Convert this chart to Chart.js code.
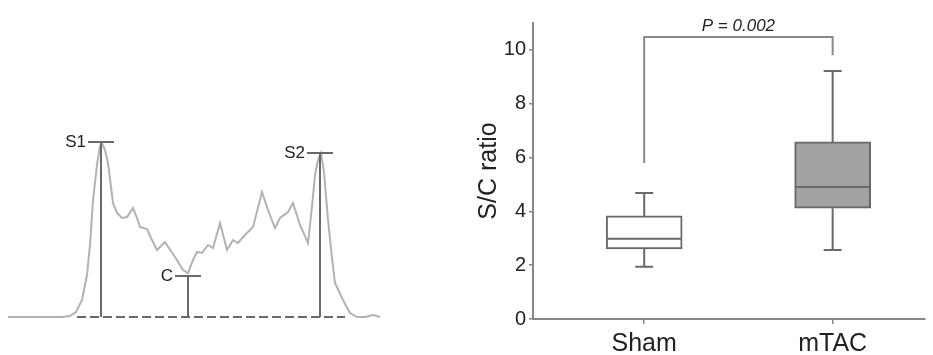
<!DOCTYPE html>
<html>
<head>
<meta charset="utf-8">
<script src="https://cdn.jsdelivr.net/npm/chart.js@4.4.1/dist/chart.umd.min.js"></script>
<style>
  body { margin: 0; background: #fff; width: 933px; height: 355px; position: relative; overflow: hidden; }
  canvas { position: absolute; top: 0; }
  #profile { left: 0; }
  #ratio { left: 440px; }
</style>
</head>
<body>
<canvas id="profile" width="420" height="355"></canvas>
<canvas id="ratio" width="493" height="355"></canvas>
<script>
// Line profile (distance / intensity, arbitrary units)
const profileX = [8, 62, 70, 76, 82, 87, 90, 93, 97, 100, 102, 105, 108, 113, 117, 122, 127, 133, 137, 140,
    147, 151, 157, 165, 175, 183, 188, 193, 197, 202, 208, 213, 220, 227, 233, 238, 245, 250, 253, 262,
    268, 275, 280, 288, 293, 300, 308, 312, 315, 318, 321, 324, 328, 332, 335, 343, 350, 357, 365, 373, 380];
const profileY = [0, 0, 1, 5, 17, 42, 72, 117, 152, 171, 174, 167, 154, 114, 104, 99, 100, 109, 99, 90,
    88, 79, 67, 75, 60, 47, 44, 57, 65, 64, 72, 69, 94, 67, 77, 74, 82, 87, 90, 125,
    107, 89, 99, 105, 114, 92, 74, 110, 142, 157, 164, 145, 97, 59, 34, 17, 4, 0, 0, 2, 0];

// S1 / C / S2 markers
const markerLabels = ["S1", "C", "S2"];
const markerX = [101, 188, 320];
const markerY = [175, 41, 164];
const baselineRange = [77, 345];

// Box plot S/C ratio
const categories = ["Sham", "mTAC"];
const whiskerMin = [1.94, 2.56];
const quartile1 = [2.6, 4.12];
const medians = [2.98, 4.91];
const quartile3 = [3.83, 6.58];
const whiskerMax = [4.68, 9.22];
const yTicks = [0, 2, 4, 6, 8, 10];
const boxColors = ["#ffffff", "#a2a2a2"];

// Significance bracket
const pLabel = "P = 0.002";
const bracketTop = 10.48;
const bracketEnds = [5.8, 9.8];

const FONT = "Arial, 'Liberation Sans', sans-serif";

// Markers and dashed baseline on the profile
const markerPlugin = {
    id: "markers",
    afterDatasetsDraw(chart) {
        const ctx = chart.ctx;
        const x = chart.scales.x;
        const y = chart.scales.y;
        const y0 = y.getPixelForValue(0);
        ctx.save();
        ctx.strokeStyle = "#6a6a6a";
        ctx.lineWidth = 2;
        ctx.setLineDash([9, 4]);
        ctx.beginPath();
        ctx.moveTo(x.getPixelForValue(baselineRange[0]), y0);
        ctx.lineTo(x.getPixelForValue(baselineRange[1]), y0);
        ctx.stroke();
        ctx.setLineDash([]);
        ctx.font = "17px " + FONT;
        ctx.fillStyle = "#222";
        ctx.textAlign = "right";
        ctx.textBaseline = "middle";
        markerLabels.forEach((label, i) => {
            const px = x.getPixelForValue(markerX[i]);
            const py = y.getPixelForValue(markerY[i]);
            ctx.beginPath();
            ctx.moveTo(px, y0);
            ctx.lineTo(px, py);
            ctx.moveTo(px - 13, py);
            ctx.lineTo(px + 13, py);
            ctx.stroke();
            ctx.fillText(label, px - 15, py);
        });
        ctx.restore();
    }
};

new Chart(document.getElementById("profile"), {
    type: "line",
    data: {
        datasets: [{
            data: profileX.map((v, i) => ({ x: v, y: profileY[i] })),
            borderColor: "#b2b2b2",
            borderWidth: 2,
            pointRadius: 0,
            tension: 0
        }]
    },
    options: {
        responsive: false,
        animation: false,
        devicePixelRatio: 1,
        layout: { padding: 0 },
        plugins: { legend: { display: false }, tooltip: { enabled: false } },
        scales: {
            x: { type: "linear", display: false, min: 0, max: 420 },
            y: { display: false, min: -38, max: 317 }
        }
    },
    plugins: [markerPlugin]
});

// Whiskers, medians, bracket
const boxPlugin = {
    id: "boxExtras",
    afterDatasetsDraw(chart) {
        const ctx = chart.ctx;
        const x = chart.scales.x;
        const y = chart.scales.y;
        const half = 38;
        ctx.save();
        ctx.lineWidth = 2;
        categories.forEach((c, i) => {
            const px = x.getPixelForValue(i + 1);
            ctx.strokeStyle = "#6a6a6a";
            ctx.beginPath();
            ctx.moveTo(px, y.getPixelForValue(quartile3[i]));
            ctx.lineTo(px, y.getPixelForValue(whiskerMax[i]));
            ctx.moveTo(px - 9, y.getPixelForValue(whiskerMax[i]));
            ctx.lineTo(px + 9, y.getPixelForValue(whiskerMax[i]));
            ctx.moveTo(px, y.getPixelForValue(quartile1[i]));
            ctx.lineTo(px, y.getPixelForValue(whiskerMin[i]));
            ctx.moveTo(px - 9, y.getPixelForValue(whiskerMin[i]));
            ctx.lineTo(px + 9, y.getPixelForValue(whiskerMin[i]));
            ctx.moveTo(px - half + 1, y.getPixelForValue(medians[i]));
            ctx.lineTo(px + half - 1, y.getPixelForValue(medians[i]));
            ctx.stroke();
        });
        const xl = x.getPixelForValue(1);
        const xr = x.getPixelForValue(2);
        const yt = y.getPixelForValue(bracketTop);
        ctx.strokeStyle = "#8a8a8a";
        ctx.beginPath();
        ctx.moveTo(xl, y.getPixelForValue(bracketEnds[0]));
        ctx.lineTo(xl, yt);
        ctx.lineTo(xr, yt);
        ctx.lineTo(xr, y.getPixelForValue(bracketEnds[1]));
        ctx.stroke();
        ctx.font = "italic 17px " + FONT;
        ctx.fillStyle = "#222";
        ctx.textAlign = "center";
        ctx.textBaseline = "alphabetic";
        ctx.fillText(pLabel, (xl + xr) / 2, yt - 6);
        ctx.restore();
    }
};

new Chart(document.getElementById("ratio"), {
    type: "bar",
    data: {
        datasets: [{
            data: categories.map((c, i) => ({ x: i + 1, y: [quartile1[i], quartile3[i]] })),
            backgroundColor: boxColors,
            borderColor: "#686868",
            borderWidth: 2,
            borderSkipped: false,
            barThickness: 76
        }]
    },
    options: {
        responsive: false,
        animation: false,
        devicePixelRatio: 1,
        layout: { padding: { left: 30, top: 23, right: 8, bottom: 0 } },
        plugins: { legend: { display: false }, tooltip: { enabled: false } },
        scales: {
            x: {
                type: "linear",
                min: 0.41,
                max: 2.49,
                offset: false,
                afterBuildTicks: s => { s.ticks = categories.map((c, i) => ({ value: i + 1 })); },
                afterFit: s => { s.height = 36; },
                ticks: {
                    callback: v => categories[v - 1],
                    font: { size: 25, family: FONT },
                    color: "#222",
                    padding: 5,
                    maxRotation: 0
                },
                grid: { drawOnChartArea: false, offset: false, tickLength: 5, color: "#888", lineWidth: 1.5 },
                border: { color: "#888", width: 2 }
            },
            y: {
                min: 0,
                max: 11,
                afterBuildTicks: s => { s.ticks = yTicks.map(v => ({ value: v })); },
                afterFit: s => { s.width = 63; },
                ticks: {
                    font: { size: 20, family: FONT },
                    color: "#222",
                    padding: 3
                },
                grid: { drawOnChartArea: false, tickLength: 4, color: "#888", lineWidth: 1.5 },
                border: { color: "#888", width: 2 },
                title: {
                    display: true,
                    text: "S/C ratio",
                    font: { size: 25, family: FONT },
                    color: "#222"
                }
            }
        }
    },
    plugins: [boxPlugin]
});
</script>
</body>
</html>
